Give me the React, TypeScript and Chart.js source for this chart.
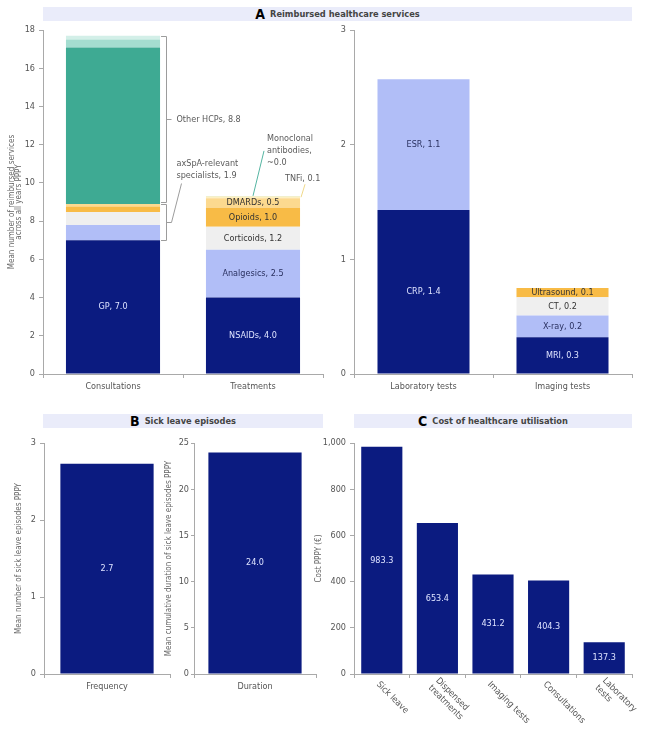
import React, { useEffect, useRef } from "react";
import { Chart, registerables } from "chart.js";

Chart.register(...registerables);

const FONT_FAMILY = "'DejaVu Sans Condensed', 'Liberation Sans', Arial, sans-serif";

// ---- A: reimbursed healthcare services (mean count PPPY) ----
const serviceCategories = ["Consultations", "Treatments"];
const gpVisits = 7.0;
const specialistVisits = [0.8, 0.68, 0.28, 0.14]; // axSpA-relevant specialists
const otherHcpVisits = [8.18, 0.42, 0.2]; // other healthcare professionals
const treatmentNames = ["NSAIDs", "Analgesics", "Corticoids", "Opioids", "DMARDs", "TNFi", "Monoclonal antibodies"];
const treatmentValues = [4.0, 2.5, 1.2, 1.0, 0.5, 0.1, 0.02];

const testCategories = ["Laboratory tests", "Imaging tests"];
const labTestNames = ["CRP", "ESR"];
const labTestValues = [1.43, 1.14];
const imagingNames = ["MRI", "X-ray", "CT", "Ultrasound"];
const imagingValues = [0.32, 0.19, 0.16, 0.08];

// ---- B: sick leave episodes ----
const sickLeaveFrequency = 2.73;
const sickLeaveDuration = 23.98;

// ---- C: cost of healthcare utilisation (€ PPPY) ----
const costCategories = [["Sick leave"], ["Dispensed", "treatments"], ["Imaging tests"], ["Consultations"], ["Laboratory", "tests"]];
const costValues = [983.3, 653.4, 431.2, 404.3, 137.3];

// palette
const NAVY = "#0b1b80";
const LAVENDER = "#b1bef7";
const LIGHT_GRAY = "#efefef";
const ORANGE = "#f8bb46";
const PALE_ORANGE = "#fcd98f";
const PALE_YELLOW = "#fdf0c2";
const TEAL = "#3eaa93";
const LIGHT_TEAL = "#a4ddd0";
const PALE_TEAL = "#d3efe8";
const MONO_TEAL = "#55b5a2";
const BAND = "#eaecfa";
const LIGHT_TEXT = "#dfe4ff";
const DARK_TEXT = "#2a3160";
const AXIS = "#a9a9a9";
const TICK_TEXT = "#555";

Chart.defaults.font.family = FONT_FAMILY;
Chart.defaults.font.size = 9;
Chart.defaults.color = TICK_TEXT;

const sum = (a: number[]) => a.reduce((s, v) => s + v, 0);
const fmt = (v: number) => v.toFixed(1);

// text centred on each bar segment
const segmentTextPlugin = {
  id: "segmentText",
  afterDatasetsDraw(chart: any) {
    const ctx = chart.ctx;
    chart.data.datasets.forEach((ds: any, di: number) => {
      if (!ds.segText) return;
      const meta = chart.getDatasetMeta(di);
      meta.data.forEach((el: any, i: number) => {
        const t = ds.segText[i];
        if (!t) return;
        ctx.save();
        ctx.font = `9px ${FONT_FAMILY}`;
        ctx.fillStyle = ds.segTextColor || DARK_TEXT;
        ctx.textAlign = "center";
        ctx.textBaseline = "middle";
        ctx.fillText(t, el.x, (el.y + el.base) / 2);
        ctx.restore();
      });
    });
  },
};

const treatmentStart = 1 + specialistVisits.length + otherHcpVisits.length;

// brackets and leader-line notes for the consultations / treatments bars
const reimbursedNotesPlugin = {
  id: "reimbursedNotes",
  afterDatasetsDraw(chart: any) {
    const { ctx } = chart;
    const y = chart.scales.y;
    const gpBar = chart.getDatasetMeta(0).data[0];
    const barRight = gpBar.x + gpBar.width / 2;
    const spTop = gpVisits + sum(specialistVisits);
    const allTop = spTop + sum(otherHcpVisits);
    const bx = Math.round(barRight + 6) + 0.5;

    ctx.save();
    ctx.lineWidth = 1;
    ctx.strokeStyle = "#9c9c9c";
    const bracket = (yt: number, yb: number) => {
      ctx.beginPath();
      ctx.moveTo(barRight + 1, yt);
      ctx.lineTo(bx, yt);
      ctx.lineTo(bx, yb);
      ctx.lineTo(barRight + 1, yb);
      const mid = (yt + yb) / 2;
      ctx.moveTo(bx, mid);
      ctx.lineTo(bx + 5, mid);
      ctx.stroke();
      return mid;
    };
    const otherMid = bracket(Math.round(y.getPixelForValue(allTop)) + 0.5, Math.round(y.getPixelForValue(spTop)) - 1.5);
    const spMid = bracket(Math.round(y.getPixelForValue(spTop)) + 0.5, Math.round(y.getPixelForValue(gpVisits)) + 0.5);

    ctx.beginPath();
    ctx.moveTo(bx + 5, spMid);
    ctx.lineTo(bx + 15, spMid - 39);
    ctx.stroke();

    ctx.font = `9px ${FONT_FAMILY}`;
    ctx.fillStyle = "#5a5a5a";
    ctx.textAlign = "left";
    ctx.textBaseline = "middle";
    ctx.fillText(`Other HCPs, ${fmt(sum(otherHcpVisits))}`, bx + 10, otherMid);
    ctx.fillText("axSpA-relevant", bx + 10, spMid - 59);
    ctx.fillText(`specialists, ${fmt(sum(specialistVisits))}`, bx + 10, spMid - 47);

    // monoclonal antibodies (top sliver)
    const mono = chart.getDatasetMeta(treatmentStart + 6).data[1];
    const monoTop = mono.y;
    ctx.strokeStyle = MONO_TEAL;
    ctx.beginPath();
    ctx.moveTo(mono.x, monoTop);
    ctx.lineTo(mono.x + 11, monoTop - 45);
    ctx.stroke();
    ctx.fillText("Monoclonal", mono.x + 14, monoTop - 57);
    ctx.fillText("antibodies,", mono.x + 14, monoTop - 45);
    ctx.fillText(`~${fmt(treatmentValues[6])}`, mono.x + 14, monoTop - 33);

    // TNFi
    const tnfi = chart.getDatasetMeta(treatmentStart + 5).data[1];
    const tnfiRight = tnfi.x + tnfi.width / 2;
    const tnfiMid = (tnfi.y + tnfi.base) / 2;
    ctx.strokeStyle = "#f0d98a";
    ctx.beginPath();
    ctx.moveTo(tnfiRight + 1, tnfiMid);
    ctx.lineTo(tnfiRight + 5, tnfiMid - 13);
    ctx.stroke();
    ctx.fillText(`${treatmentNames[5]}, ${fmt(treatmentValues[5])}`, tnfiRight - 15, tnfiMid - 19);
    ctx.restore();
  },
};

// category labels slanted down to the right
const slantedLabelsPlugin = {
  id: "slantedLabels",
  afterDraw(chart: any) {
    const { ctx, chartArea } = chart;
    const xs = chart.scales.x;
    ctx.save();
    ctx.font = `9px ${FONT_FAMILY}`;
    ctx.fillStyle = TICK_TEXT;
    (chart.data.labels as string[][]).forEach((lines, i) => {
      const x = xs.getPixelForValue(i);
      ctx.save();
      ctx.translate(x - 4, chartArea.bottom + 9);
      ctx.rotate(Math.PI / 4);
      ctx.textAlign = "left";
      ctx.textBaseline = "middle";
      const lh = 10.5;
      lines.forEach((l, j) => ctx.fillText(l, 0, (j - (lines.length - 1) / 2) * lh));
      ctx.restore();
    });
    ctx.restore();
  },
};

const yAxis = (opts: any) => ({
  min: 0,
  max: opts.max,
  stacked: opts.stacked,
  border: { display: true, color: AXIS },
  grid: { drawOnChartArea: false, color: AXIS, tickLength: opts.tickLength ?? 4 },
  ticks: {
    stepSize: opts.step,
    padding: opts.pad ?? 4,
    color: TICK_TEXT,
    font: { size: 9 },
    callback: opts.callback,
  },
  title: opts.title
    ? {
        display: true,
        text: opts.title,
        color: "#666",
        font: { size: 8, lineHeight: 0.95 },
        padding: { top: opts.titlePad, bottom: 0 },
      }
    : { display: false },
  afterFit: (s: any) => {
    s.width = opts.width;
  },
});

const xAxis = (opts: any) => ({
  stacked: opts.stacked,
  border: { display: true, color: AXIS },
  grid: { drawOnChartArea: false, color: AXIS, tickLength: 4 },
  ticks: { display: opts.showTicks ?? true, padding: 3, color: TICK_TEXT, font: { size: 9 }, maxRotation: 0, autoSkip: false },
  afterFit: (s: any) => {
    s.height = opts.height;
  },
});

const baseOptions = (padding: any, scales: any) => ({
  responsive: false,
  animation: false as const,
  devicePixelRatio: 1,
  layout: { padding },
  plugins: { legend: { display: false }, tooltip: { enabled: false } },
  scales,
});

function reimbursedConfig(): any {
  const datasets: any[] = [
    { data: [gpVisits, null], backgroundColor: NAVY, segText: [`GP, ${fmt(gpVisits)}`, null], segTextColor: LIGHT_TEXT },
    ...specialistVisits.map((v, i) => ({ data: [v, null], backgroundColor: [LAVENDER, LIGHT_GRAY, ORANGE, PALE_ORANGE][i] })),
    ...otherHcpVisits.map((v, i) => ({ data: [v, null], backgroundColor: [TEAL, LIGHT_TEAL, PALE_TEAL][i] })),
    ...treatmentValues.map((v, i) => ({
      data: [null, v],
      backgroundColor: [NAVY, LAVENDER, LIGHT_GRAY, ORANGE, PALE_ORANGE, PALE_YELLOW, MONO_TEAL][i],
      segText: i < 5 ? [null, `${treatmentNames[i]}, ${fmt(v)}`] : null,
      segTextColor: i === 0 ? LIGHT_TEXT : i === 1 ? DARK_TEXT : "#333",
    })),
  ].map((d) => ({ ...d, borderWidth: 0, barPercentage: 0.672, categoryPercentage: 1 }));
  return {
    type: "bar",
    data: { labels: serviceCategories, datasets },
    options: baseOptions(
      { top: 30, right: 7, left: 0, bottom: 0 },
      {
        x: xAxis({ stacked: true, height: 26 }),
        y: yAxis({
          stacked: true,
          max: 18,
          step: 2,
          width: 43,
          title: ["Mean number of reimbursed services", "across all years PPPY"],
          titlePad: 8,
        }),
      }
    ),
    plugins: [segmentTextPlugin, reimbursedNotesPlugin],
  };
}

function testsConfig(): any {
  const datasets: any[] = [
    ...labTestValues.map((v, i) => ({
      data: [v, null],
      backgroundColor: [NAVY, LAVENDER][i],
      segText: [`${labTestNames[i]}, ${fmt(v)}`, null],
      segTextColor: i === 0 ? LIGHT_TEXT : DARK_TEXT,
    })),
    ...imagingValues.map((v, i) => ({
      data: [null, v],
      backgroundColor: [NAVY, LAVENDER, LIGHT_GRAY, ORANGE][i],
      segText: [null, `${imagingNames[i]}, ${fmt(v)}`],
      segTextColor: i === 0 ? LIGHT_TEXT : i === 1 ? DARK_TEXT : "#333",
    })),
  ].map((d) => ({ ...d, borderWidth: 0, barPercentage: 0.662, categoryPercentage: 1 }));
  return {
    type: "bar",
    data: { labels: testCategories, datasets },
    options: baseOptions(
      { top: 30, right: 28, left: 0, bottom: 0 },
      {
        x: xAxis({ stacked: true, height: 26 }),
        y: yAxis({ stacked: true, max: 3, step: 1, width: 24 }),
      }
    ),
    plugins: [segmentTextPlugin],
  };
}

function singleBarConfig(label: string, value: number, max: number, step: number, title: string, yw: number, titlePad: number, tickLen: number, tickPad: number, barPct: number): any {
  return {
    type: "bar",
    data: {
      labels: [label],
      datasets: [
        {
          data: [value],
          backgroundColor: NAVY,
          borderWidth: 0,
          barPercentage: barPct,
          categoryPercentage: 1,
          segText: [fmt(value)],
          segTextColor: LIGHT_TEXT,
        },
      ],
    },
    options: baseOptions(
      { top: 43, right: 2, left: 0, bottom: 0 },
      {
        x: xAxis({ height: 67 }),
        y: yAxis({ max, step, width: yw, title, titlePad, tickLength: tickLen, pad: tickPad }),
      }
    ),
    plugins: [segmentTextPlugin],
  };
}

function costConfig(): any {
  return {
    type: "bar",
    data: {
      labels: costCategories,
      datasets: [
        {
          data: costValues,
          backgroundColor: NAVY,
          borderWidth: 0,
          barPercentage: 0.74,
          categoryPercentage: 1,
          segText: costValues.map(fmt),
          segTextColor: LIGHT_TEXT,
        },
      ],
    },
    options: baseOptions(
      { top: 43, right: 28, left: 0, bottom: 0 },
      {
        x: xAxis({ height: 67, showTicks: false }),
        y: yAxis({
          max: 1000,
          step: 200,
          width: 54,
          title: "Cost PPPY (€)",
          titlePad: 15,
          callback: (v: number) => v.toLocaleString("en-US"),
        }),
      }
    ),
    plugins: [segmentTextPlugin, slantedLabelsPlugin],
  };
}

const panels = [
  { key: "a1", left: 0, top: 0, w: 330, h: 400, make: reimbursedConfig },
  { key: "a2", left: 330, top: 0, w: 330, h: 400, make: testsConfig },
  {
    key: "b1",
    left: 0,
    top: 400,
    w: 172,
    h: 341,
    make: () => singleBarConfig("Frequency", sickLeaveFrequency, 3, 1, "Mean number of sick leave episodes PPPY", 44, 15, 4, 4, 0.74),
  },
  {
    key: "b2",
    left: 160,
    top: 400,
    w: 158,
    h: 341,
    make: () =>
      singleBarConfig("Duration", sickLeaveDuration, 25, 5, "Mean cumulative duration of sick leave episodes PPPY", 34, 5, 3, 2, 0.764),
  },
  { key: "c", left: 300, top: 400, w: 360, h: 341, make: costConfig },
];

function Header(props: { left: number; top: number; width: number; letter: string; text: string }) {
  return (
    <div
      style={{
        position: "absolute",
        left: props.left,
        top: props.top,
        width: props.width,
        height: 14,
        background: BAND,
        display: "flex",
        alignItems: "center",
        justifyContent: "center",
        fontFamily: FONT_FAMILY,
        fontWeight: "bold",
        fontSize: 9.2,
        color: "#444",
        lineHeight: "14px",
        whiteSpace: "nowrap",
      }}
    >
      <span style={{ fontSize: 14, color: "#000", marginRight: 5 }}>{props.letter}</span>
      {props.text}
    </div>
  );
}

export default function App() {
  const refs = useRef<(HTMLCanvasElement | null)[]>([]);

  useEffect(() => {
    const charts = panels.map((p, i) => new Chart(refs.current[i] as HTMLCanvasElement, p.make()));
    return () => charts.forEach((c) => c.destroy());
  }, []);

  return (
    <div style={{ position: "absolute", left: 0, top: 0, width: 660, height: 741, background: "#fff", overflow: "hidden" }}>
      <Header left={43} top={7} width={589} letter="A" text="Reimbursed healthcare services" />
      <Header left={43} top={414} width={280} letter="B" text="Sick leave episodes" />
      <Header left={354} top={414} width={278} letter="C" text="Cost of healthcare utilisation" />
      {panels.map((p, i) => (
        <canvas
          key={p.key}
          ref={(el) => {
            refs.current[i] = el;
          }}
          width={p.w}
          height={p.h}
          style={{ position: "absolute", left: p.left, top: p.top, width: p.w, height: p.h }}
        />
      ))}
    </div>
  );
}
